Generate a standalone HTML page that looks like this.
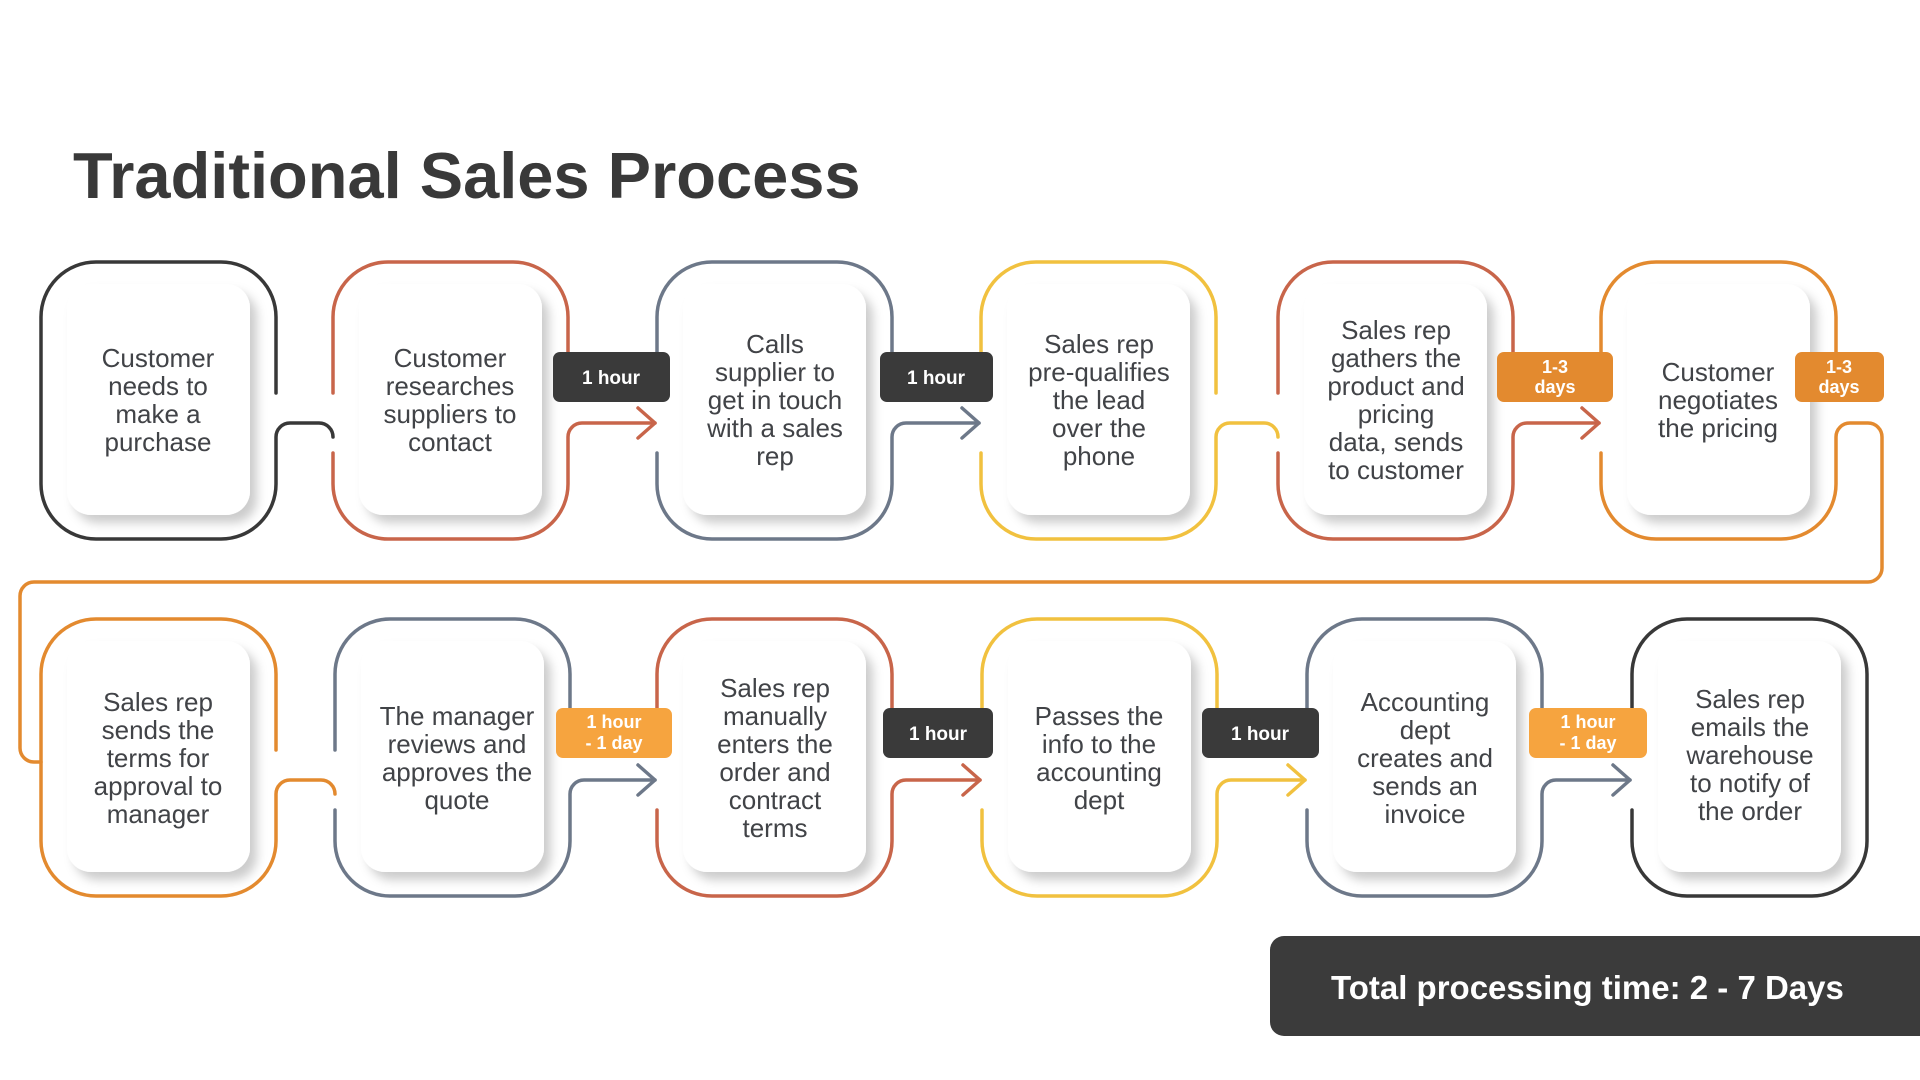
<!DOCTYPE html>
<html>
<head>
<meta charset="utf-8">
<style>
  html, body { margin:0; padding:0; background:#ffffff; }
  svg { display:block; }
  .t { font-family: "Liberation Sans", Arial, sans-serif; }
</style>
</head>
<body>
<svg width="1920" height="1080" viewBox="0 0 1920 1080" xmlns="http://www.w3.org/2000/svg">
  <defs>
    <filter id="sh" x="-20%" y="-20%" width="140%" height="140%">
      <feDropShadow dx="7" dy="8" stdDeviation="5" flood-color="#000" flood-opacity="0.2"/>
    </filter>
  </defs>
  <rect width="1920" height="1080" fill="#ffffff"/>

  <!-- Title -->
  <text class="t" x="73" y="198" font-size="65" font-weight="bold" fill="#393939">Traditional Sales Process</text>

  <!-- Inner cards -->
  <g fill="#ffffff" filter="url(#sh)">
    <rect x="67" y="284" width="183" height="231" rx="24"/>
    <rect x="359" y="284" width="183" height="231" rx="24"/>
    <rect x="683" y="284" width="183" height="231" rx="24"/>
    <rect x="1007" y="284" width="183" height="231" rx="24"/>
    <rect x="1304" y="284" width="183" height="231" rx="24"/>
    <rect x="1627" y="284" width="183" height="231" rx="24"/>
    <rect x="67" y="641" width="183" height="231" rx="24"/>
    <rect x="361" y="641" width="183" height="231" rx="24"/>
    <rect x="683" y="641" width="183" height="231" rx="24"/>
    <rect x="1008" y="641" width="183" height="231" rx="24"/>
    <rect x="1333" y="641" width="183" height="231" rx="24"/>
    <rect x="1658" y="641" width="183" height="231" rx="24"/>
  </g>

  <!-- Outlines and connectors -->
  <g fill="none" stroke-width="3.5" stroke-linecap="round" stroke-linejoin="round">
    <path stroke="#383838" d="M 276 393 L 276 317 A 55 55 0 0 0 221 262 L 96 262 A 55 55 0 0 0 41 317 L 41 484 A 55 55 0 0 0 96 539 L 221 539 A 55 55 0 0 0 276 484 L 276 437 A 14 14 0 0 1 290 423 L 319 423 A 14 14 0 0 1 333 437"/>
    <path stroke="#c8654a" d="M 568 393 L 568 317 A 55 55 0 0 0 513 262 L 388 262 A 55 55 0 0 0 333 317 L 333 393"/>
    <path stroke="#c8654a" d="M 333 453 L 333 484 A 55 55 0 0 0 388 539 L 513 539 A 55 55 0 0 0 568 484 L 568 437 A 14 14 0 0 1 582 423 L 655 423"/>
    <path stroke="#c8654a" d="M 638 408 L 655 423 L 638 438"/>
    <path stroke="#6d7889" d="M 892 393 L 892 317 A 55 55 0 0 0 837 262 L 712 262 A 55 55 0 0 0 657 317 L 657 393"/>
    <path stroke="#6d7889" d="M 657 453 L 657 484 A 55 55 0 0 0 712 539 L 837 539 A 55 55 0 0 0 892 484 L 892 437 A 14 14 0 0 1 906 423 L 979 423"/>
    <path stroke="#6d7889" d="M 962 408 L 979 423 L 962 438"/>
    <path stroke="#f1c13f" d="M 1216 393 L 1216 317 A 55 55 0 0 0 1161 262 L 1036 262 A 55 55 0 0 0 981 317 L 981 393"/>
    <path stroke="#f1c13f" d="M 981 453 L 981 484 A 55 55 0 0 0 1036 539 L 1161 539 A 55 55 0 0 0 1216 484 L 1216 437 A 14 14 0 0 1 1230 423 L 1264 423 A 14 14 0 0 1 1278 437"/>
    <path stroke="#c8654a" d="M 1513 393 L 1513 317 A 55 55 0 0 0 1458 262 L 1333 262 A 55 55 0 0 0 1278 317 L 1278 393"/>
    <path stroke="#c8654a" d="M 1278 453 L 1278 484 A 55 55 0 0 0 1333 539 L 1458 539 A 55 55 0 0 0 1513 484 L 1513 437 A 14 14 0 0 1 1527 423 L 1599 423"/>
    <path stroke="#c8654a" d="M 1582 408 L 1599 423 L 1582 438"/>
    <path stroke="#e38a2f" d="M 1836 393 L 1836 317 A 55 55 0 0 0 1781 262 L 1656 262 A 55 55 0 0 0 1601 317 L 1601 393"/>
    <path stroke="#e38a2f" d="M 1601 453 L 1601 484 A 55 55 0 0 0 1656 539 L 1781 539 A 55 55 0 0 0 1836 484 L 1836 437 A 14 14 0 0 1 1850 423 L 1868 423 A 14 14 0 0 1 1882 437 L 1882 568 A 14 14 0 0 1 1868 582 L 34 582 A 14 14 0 0 0 20 596 L 20 748 A 14 14 0 0 0 34 762 L 41 762"/>

    <path stroke="#e38a2f" d="M 276 750 L 276 674 A 55 55 0 0 0 221 619 L 96 619 A 55 55 0 0 0 41 674 L 41 841 A 55 55 0 0 0 96 896 L 221 896 A 55 55 0 0 0 276 841 L 276 794 A 14 14 0 0 1 290 780 L 321 780 A 14 14 0 0 1 335 794"/>
    <path stroke="#6d7889" d="M 570 750 L 570 674 A 55 55 0 0 0 515 619 L 390 619 A 55 55 0 0 0 335 674 L 335 750"/>
    <path stroke="#6d7889" d="M 335 810 L 335 841 A 55 55 0 0 0 390 896 L 515 896 A 55 55 0 0 0 570 841 L 570 794 A 14 14 0 0 1 584 780 L 655 780"/>
    <path stroke="#6d7889" d="M 638 765 L 655 780 L 638 795"/>
    <path stroke="#c8654a" d="M 892 750 L 892 674 A 55 55 0 0 0 837 619 L 712 619 A 55 55 0 0 0 657 674 L 657 750"/>
    <path stroke="#c8654a" d="M 657 810 L 657 841 A 55 55 0 0 0 712 896 L 837 896 A 55 55 0 0 0 892 841 L 892 794 A 14 14 0 0 1 906 780 L 980 780"/>
    <path stroke="#c8654a" d="M 963 765 L 980 780 L 963 795"/>
    <path stroke="#f1c13f" d="M 1217 750 L 1217 674 A 55 55 0 0 0 1162 619 L 1037 619 A 55 55 0 0 0 982 674 L 982 750"/>
    <path stroke="#f1c13f" d="M 982 810 L 982 841 A 55 55 0 0 0 1037 896 L 1162 896 A 55 55 0 0 0 1217 841 L 1217 794 A 14 14 0 0 1 1231 780 L 1305 780"/>
    <path stroke="#f1c13f" d="M 1288 765 L 1305 780 L 1288 795"/>
    <path stroke="#6d7889" d="M 1542 750 L 1542 674 A 55 55 0 0 0 1487 619 L 1362 619 A 55 55 0 0 0 1307 674 L 1307 750"/>
    <path stroke="#6d7889" d="M 1307 810 L 1307 841 A 55 55 0 0 0 1362 896 L 1487 896 A 55 55 0 0 0 1542 841 L 1542 794 A 14 14 0 0 1 1556 780 L 1630 780"/>
    <path stroke="#6d7889" d="M 1613 765 L 1630 780 L 1613 795"/>
    <path stroke="#383838" d="M 1632 810 L 1632 841 A 55 55 0 0 0 1687 896 L 1812 896 A 55 55 0 0 0 1867 841 L 1867 674 A 55 55 0 0 0 1812 619 L 1687 619 A 55 55 0 0 0 1632 674 L 1632 750"/>
  </g>

  <!-- Card texts -->
  <g class="t" font-size="26" fill="#414347" text-anchor="middle">
    <text x="158" y="367"><tspan x="158">Customer</tspan><tspan x="158" dy="28">needs to</tspan><tspan x="158" dy="28">make a</tspan><tspan x="158" dy="28">purchase</tspan></text>
    <text x="450" y="367"><tspan x="450">Customer</tspan><tspan x="450" dy="28">researches</tspan><tspan x="450" dy="28">suppliers to</tspan><tspan x="450" dy="28">contact</tspan></text>
    <text x="775" y="353"><tspan x="775">Calls</tspan><tspan x="775" dy="28">supplier to</tspan><tspan x="775" dy="28">get in touch</tspan><tspan x="775" dy="28">with a sales</tspan><tspan x="775" dy="28">rep</tspan></text>
    <text x="1099" y="353"><tspan x="1099">Sales rep</tspan><tspan x="1099" dy="28">pre-qualifies</tspan><tspan x="1099" dy="28">the lead</tspan><tspan x="1099" dy="28">over the</tspan><tspan x="1099" dy="28">phone</tspan></text>
    <text x="1396" y="339"><tspan x="1396">Sales rep</tspan><tspan x="1396" dy="28">gathers the</tspan><tspan x="1396" dy="28">product and</tspan><tspan x="1396" dy="28">pricing</tspan><tspan x="1396" dy="28">data, sends</tspan><tspan x="1396" dy="28">to customer</tspan></text>
    <text x="1718" y="381"><tspan x="1718">Customer</tspan><tspan x="1718" dy="28">negotiates</tspan><tspan x="1718" dy="28">the pricing</tspan></text>

    <text x="158" y="711"><tspan x="158">Sales rep</tspan><tspan x="158" dy="28">sends the</tspan><tspan x="158" dy="28">terms for</tspan><tspan x="158" dy="28">approval to</tspan><tspan x="158" dy="28">manager</tspan></text>
    <text x="457" y="725"><tspan x="457">The manager</tspan><tspan x="457" dy="28">reviews and</tspan><tspan x="457" dy="28">approves the</tspan><tspan x="457" dy="28">quote</tspan></text>
    <text x="775" y="697"><tspan x="775">Sales rep</tspan><tspan x="775" dy="28">manually</tspan><tspan x="775" dy="28">enters the</tspan><tspan x="775" dy="28">order and</tspan><tspan x="775" dy="28">contract</tspan><tspan x="775" dy="28">terms</tspan></text>
    <text x="1099" y="725"><tspan x="1099">Passes the</tspan><tspan x="1099" dy="28">info to the</tspan><tspan x="1099" dy="28">accounting</tspan><tspan x="1099" dy="28">dept</tspan></text>
    <text x="1425" y="711"><tspan x="1425">Accounting</tspan><tspan x="1425" dy="28">dept</tspan><tspan x="1425" dy="28">creates and</tspan><tspan x="1425" dy="28">sends an</tspan><tspan x="1425" dy="28">invoice</tspan></text>
    <text x="1750" y="708"><tspan x="1750">Sales rep</tspan><tspan x="1750" dy="28">emails the</tspan><tspan x="1750" dy="28">warehouse</tspan><tspan x="1750" dy="28">to notify of</tspan><tspan x="1750" dy="28">the order</tspan></text>
  </g>

  <!-- Badges -->
  <g>
    <rect x="553" y="352" width="117" height="50" rx="7" fill="#3a3a3a"/>
    <rect x="880" y="352" width="113" height="50" rx="7" fill="#3a3a3a"/>
    <rect x="1497" y="352" width="116" height="50" rx="7" fill="#e38a2f"/>
    <rect x="1795" y="352" width="89" height="50" rx="7" fill="#e38a2f"/>
    <rect x="556" y="708" width="116" height="50" rx="7" fill="#f6a43f"/>
    <rect x="883" y="708" width="110" height="50" rx="7" fill="#3a3a3a"/>
    <rect x="1202" y="708" width="117" height="50" rx="7" fill="#3a3a3a"/>
    <rect x="1529" y="708" width="118" height="50" rx="7" fill="#f6a43f"/>
  </g>
  <g class="t" font-weight="bold" fill="#ffffff" text-anchor="middle">
    <text x="611" y="384" font-size="19">1 hour</text>
    <text x="936" y="384" font-size="19">1 hour</text>
    <text x="1555" y="373" font-size="18">1-3</text>
    <text x="1555" y="393" font-size="18">days</text>
    <text x="1839" y="373" font-size="18">1-3</text>
    <text x="1839" y="393" font-size="18">days</text>
    <text x="614" y="728" font-size="18">1 hour</text>
    <text x="614" y="749" font-size="18">- 1 day</text>
    <text x="938" y="740" font-size="19">1 hour</text>
    <text x="1260" y="740" font-size="19">1 hour</text>
    <text x="1588" y="728" font-size="18">1 hour</text>
    <text x="1588" y="749" font-size="18">- 1 day</text>
  </g>

  <!-- Total box -->
  <rect x="1270" y="936" width="680" height="100" rx="14" fill="#3b3b3b"/>
  <text class="t" x="1331" y="999" font-size="33" font-weight="bold" fill="#ffffff">Total processing time: 2 - 7 Days</text>
</svg>
</body>
</html>
